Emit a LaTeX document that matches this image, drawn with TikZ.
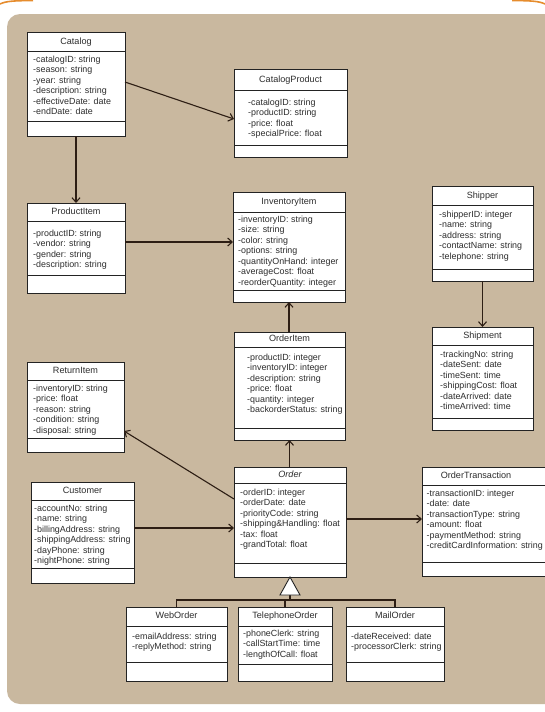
\documentclass[tikz,border=0pt]{standalone}
\usepackage{fontspec}
\setmainfont{Liberation Sans}
\usetikzlibrary{arrows.meta,calc}
\definecolor{panel}{RGB}{201,184,159}
\definecolor{boxline}{RGB}{35,35,35}
\definecolor{conn}{RGB}{45,30,20}
\definecolor{txt}{RGB}{45,45,45}
\definecolor{orangec}{RGB}{230,140,45}
\tikzset{
  classbox/.style={draw=boxline, fill=white, line width=0.9pt, inner sep=0pt, outer sep=0pt},
  sepline/.style={draw=boxline, line width=0.9pt},
  titletext/.style={inner sep=0pt, text=txt, font=\fontsize{9.1}{10.5}\selectfont, text height=6.6pt, text depth=2pt},
  attrtext/.style={inner sep=0pt, text=txt, font=\fontsize{8.9}{10.5}\selectfont, align=left, anchor=north west, yshift=3.4pt},
  assoc/.style={draw=conn, line width=1.1pt, -{Straight Barb[length=4.5pt,width=8pt,line width=1.1pt]}},
  genline/.style={draw=conn, line width=1.1pt}
}
\newcommand\umlclass[7]{%
  \node[classbox, minimum width={(#4-#2)*1pt}, minimum height={(#5-#3)*1pt}, anchor=north west] (#1) at (#2,#3) {};
  \draw[sepline] (#2,#6) -- (#4,#6);
  \draw[sepline] (#2,#7) -- (#4,#7);
}
\begin{document}
\begin{tikzpicture}[x=1pt,y=-1pt]
\useasboundingbox (0,0) rectangle (545,712);
\clip (0,0) rectangle (545,712);
\fill[white] (0,0) rectangle (545,712);
\fill[panel, rounded corners=13pt] (7,14) rectangle (580,704);
\draw[orangec, line width=1.6pt] (0,4) .. controls (6,1) and (15,0.6) .. (33,0.6);
\draw[orangec, line width=1.6pt] (512,0.6) .. controls (530,0.6) and (539,1) .. (545,4);

% Catalog
\umlclass{Catalog}{27}{32}{125}{136}{51}{121}
\node[titletext] (Catalog-t) at (76,42) {Catalog};
\node[attrtext] (Catalog-a) at (33,59) {-catalogID: string\\-season: string\\-year: string\\-description: string\\-effectiveDate: date\\-endDate: date};

% CatalogProduct
\umlclass{CatalogProduct}{234}{69}{347}{157}{90}{145}
\node[titletext] (CatalogProduct-t) at (290.5,80) {CatalogProduct};
\node[attrtext] (CatalogProduct-a) at (248,102) {-catalogID: string\\-productID: string\\-price: float\\-specialPrice: float};

% ProductItem
\umlclass{ProductItem}{27}{203}{125}{293}{221}{275}
\node[titletext] (ProductItem-t) at (76,212) {ProductItem};
\node[attrtext] (ProductItem-a) at (33,233) {-productID: string\\-vendor: string\\-gender: string\\-description: string};

% InventoryItem
\umlclass{InventoryItem}{233}{192}{345}{302}{212}{290}
\node[titletext] (InventoryItem-t) at (289,202) {InventoryItem};
\node[attrtext] (InventoryItem-a) at (238,219) {-inventoryID: string\\-size: string\\-color: string\\-options: string\\-quantityOnHand: integer\\-averageCost: float\\-reorderQuantity: integer};

% Shipper
\umlclass{Shipper}{432}{186}{533}{281}{205}{269}
\node[titletext] (Shipper-t) at (482.5,196) {Shipper};
\node[attrtext] (Shipper-a) at (439,214) {-shipperID: integer\\-name: string\\-address: string\\-contactName: string\\-telephone: string};

% Shipment
\umlclass{Shipment}{432}{327}{533}{430}{345}{418}
\node[titletext] (Shipment-t) at (482.5,336) {Shipment};
\node[attrtext] (Shipment-a) at (440,354) {-trackingNo: string\\-dateSent: date\\-timeSent: time\\-shippingCost: float\\-dateArrived: date\\-timeArrived: time};

% ReturnItem
\umlclass{ReturnItem}{27}{362}{124}{452}{380}{438}
\node[titletext] (ReturnItem-t) at (75.5,371) {ReturnItem};
\node[attrtext] (ReturnItem-a) at (33,388) {-inventoryID: string\\-price: float\\-reason: string\\-condition: string\\-disposal: string};

% OrderItem
\umlclass{OrderItem}{234}{332}{345}{440}{347}{428}
\node[titletext] (OrderItem-t) at (289.5,339.5) {OrderItem};
\node[attrtext] (OrderItem-a) at (247,357) {-productID: integer\\-inventoryID: integer\\-description: string\\-price: float\\-quantity: integer\\-backorderStatus: string};

% Customer
\umlclass{Customer}{31}{482}{134}{583}{500}{568}
\node[titletext] (Customer-t) at (82.5,491) {Customer};
\node[attrtext] (Customer-a) at (34,508) {-accountNo: string\\-name: string\\-billingAddress: string\\-shippingAddress: string\\-dayPhone: string\\-nightPhone: string};

% Order
\umlclass{Order}{234}{467}{346}{577}{483}{563}
\node[titletext, font=\fontsize{9.1}{10.5}\selectfont\itshape] (Order-t) at (290,475) {Order};
\node[attrtext] (Order-a) at (240,492) {-orderID: integer\\-orderDate: date\\-priorityCode: string\\-shipping\&Handling: float\\-tax: float\\-grandTotal: float};

% OrderTransaction
\umlclass{OrderTransaction}{422}{467}{550}{576}{485}{562}
\node[titletext] (OrderTransaction-t) at (476,476) {OrderTransaction};
\node[attrtext] (OrderTransaction-a) at (426.5,493) {-transactionID: integer\\-date: date\\-transactionType: string\\-amount: float\\-paymentMethod: string\\-creditCardInformation: string};

% WebOrder
\umlclass{WebOrder}{126}{607}{227}{681}{626}{662}
\node[titletext] (WebOrder-t) at (176.5,616.5) {WebOrder};
\node[attrtext] (WebOrder-a) at (132,636) {-emailAddress: string\\-replyMethod: string};

% TelephoneOrder
\umlclass{TelephoneOrder}{238}{607}{332}{681}{626}{664}
\node[titletext] (TelephoneOrder-t) at (285,616.5) {TelephoneOrder};
\node[attrtext] (TelephoneOrder-a) at (243,633) {-phoneClerk: string\\-callStartTime: time\\-lengthOfCall: float};

% MailOrder
\umlclass{MailOrder}{346}{607}{444}{681}{626}{662}
\node[titletext] (MailOrder-t) at (395,616.5) {MailOrder};
\node[attrtext] (MailOrder-a) at (351,636) {-dateReceived: date\\-processorClerk: string};

% associations
\draw[assoc] ($(Catalog.north east)+(0,50)$) -- ($(CatalogProduct.north west)+(0,50)$);
\draw[assoc] (Catalog.south) -- (Catalog.south |- ProductItem.north);
\coordinate (piA) at ($(ProductItem.north east)+(0,39)$);
\draw[assoc] (piA) -- (InventoryItem.west |- piA);
\draw[assoc] (OrderItem.north -| InventoryItem.south) -- (InventoryItem.south);
\draw[assoc] (Order.north -| OrderItem.south) -- (OrderItem.south);
\draw[assoc] ($(Order.north west)+(0,32)$) -- ($(ReturnItem.north east)+(0,69)$);
\coordinate (cuA) at ($(Customer.north east)+(0,46)$);
\draw[assoc] (cuA) -- (Order.west |- cuA);
\coordinate (otA) at ($(Order.north east)+(0,52)$);
\draw[assoc] (otA) -- (OrderTransaction.west |- otA);
\draw[assoc] (Shipper.south) -- (Shipment.north);

% generalization
\coordinate (tb) at ($(Order.south)+(0,18)$);
\coordinate (hub) at ($(tb)+(0,5)$);
\draw[genline] (tb) -- (hub);
\draw[genline] (WebOrder.north) |- (hub) -| (MailOrder.north);
\draw[genline] (TelephoneOrder.north) -- (TelephoneOrder.north |- hub);
\draw[draw=boxline, fill=white, line width=0.9pt] (Order.south) -- ($(tb)+(-10,0)$) -- ($(tb)+(10,0)$) -- cycle;
\end{tikzpicture}
\end{document}
